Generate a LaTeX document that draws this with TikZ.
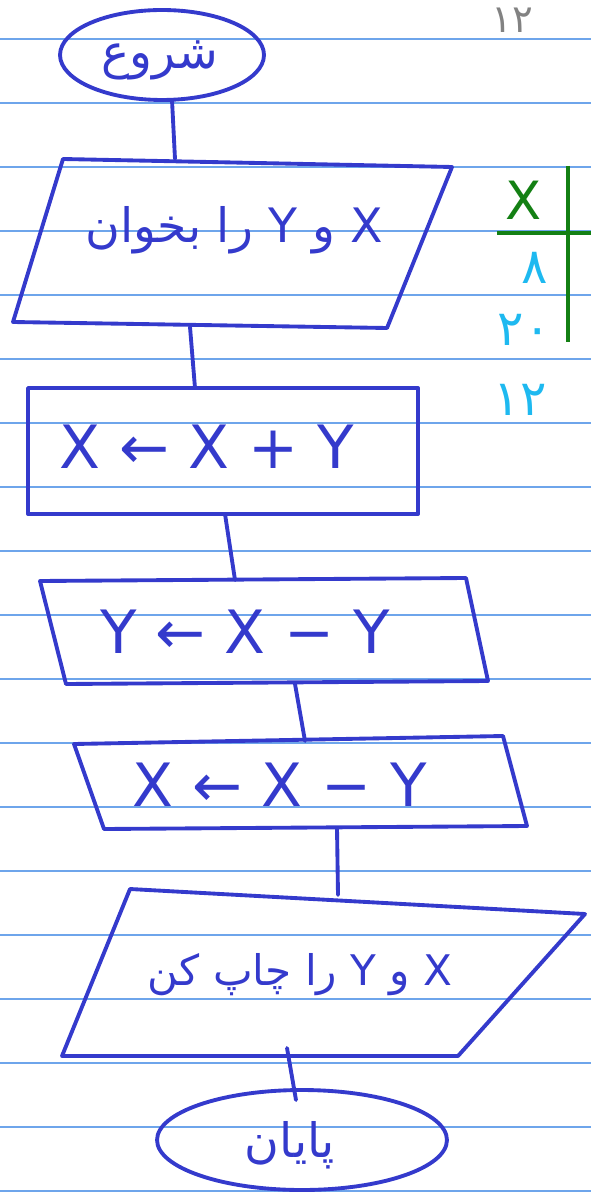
\documentclass[tikz,border=0pt]{standalone}
\usepackage{fontspec}
\setmainfont{DejaVu Sans}
\newfontfamily\farsi[Script=Arabic]{DejaVu Sans}
\TeXXeTstate=1
\definecolor{ink}{RGB}{52,58,204}
\definecolor{paperrule}{RGB}{110,165,235}
\definecolor{tgreen}{RGB}{20,128,20}
\definecolor{tcyan}{RGB}{30,185,240}
\definecolor{pencil}{RGB}{130,130,130}

\begin{document}
\begin{tikzpicture}[x=0.02cm, y=-0.02cm,
  ink/.style={draw=ink, line width=2.2pt, line join=round, line cap=round},
  lbl/.style={text=ink, font=\fontsize{34}{36}\selectfont},
  fa/.style={text=ink, font=\farsi\fontsize{27}{31}\selectfont}]
  \useasboundingbox (0,0) rectangle (591,1195);
  % خطوط دفتر
  \foreach \k in {0,...,18}
    \draw[paperrule, line width=0.6pt] (0,39+64*\k) -- (591,39+64*\k);

  % شروع
  \draw[ink] (162,55) ellipse [x radius=2.04cm, y radius=0.9cm];
  \node[fa] (start) at (160,60) {\beginR شروع\endR};

  % ورودی: متوازی الاضلاع
  \coordinate (R1) at (63,159);
  \coordinate (R2) at (452,167);
  \coordinate (R3) at (387,328);
  \coordinate (R4) at (13,322);
  \draw[ink] (R1) -- (R2) -- (R3) -- (R4) -- cycle;
  \node[fa] (read) at (234,230) {\beginR X و Y را بخوان\endR};

  % X <- X + Y
  \coordinate (S1) at (28,388);
  \coordinate (S2) at (418,514);
  \draw[ink] (S1) rectangle (S2);
  \node[lbl] (calcsum) at (207,447) {X ← X + Y};

  % Y <- X - Y
  \coordinate (T1) at (40,581);
  \coordinate (T2) at (466,578);
  \coordinate (T3) at (488,681);
  \coordinate (T4) at (66,684);
  \draw[ink] (T1) -- (T2) -- (T3) -- (T4) -- cycle;
  \node[lbl] (calcy) at (245,632) {Y ← X − Y};

  % X <- X - Y
  \coordinate (U1) at (74,744);
  \coordinate (U2) at (503,736);
  \coordinate (U3) at (527,826);
  \coordinate (U4) at (104,829);
  \draw[ink] (U1) -- (U2) -- (U3) -- (U4) -- cycle;
  \node[lbl] (calcx) at (280,785) {X ← X − Y};

  % خروجی
  \coordinate (P1) at (130,889);
  \coordinate (P2) at (585,914);
  \coordinate (P3) at (458,1056);
  \coordinate (P4) at (62,1056);
  \draw[ink] (P1) -- (P2) -- (P3) -- (P4) -- cycle;
  \node[fa, font=\farsi\fontsize{24}{28}\selectfont] (print) at (300,975) {\beginR X و Y را چاپ کن\endR};

  % پایان
  \draw[ink] (302,1140) ellipse [x radius=2.9cm, y radius=1.0cm];
  \node[fa] (stop) at (290,1145) {\beginR پایان\endR};

  % اتصال ها
  \coordinate (a1) at (172,100);  \coordinate (a2) at (175,159);
  \coordinate (b1) at (190,327);  \coordinate (b2) at (195,388);
  \coordinate (c1) at (225,514);  \coordinate (c2) at (235,580);
  \coordinate (d1) at (295,684);  \coordinate (d2) at (305,741);
  \coordinate (e1) at (337,828);  \coordinate (e2) at (338,895);
  \coordinate (f1) at (287,1048); \coordinate (f2) at (296,1100);
  \foreach \u/\v in {a1/a2, b1/b2, c1/c2, d1/d2, e1/e2, f1/f2}
    \draw[ink] (\u) -- (\v);

  % جدول کنار صفحه
  \coordinate (g1) at (568,166);  \coordinate (g2) at (568,342);
  \coordinate (h1) at (497,233);  \coordinate (h2) at (591,233);
  \draw[tgreen, line width=2pt] (g1) -- (g2);
  \draw[tgreen, line width=2pt] (h1) -- (h2);
  \node[text=tgreen, font=\fontsize{30}{32}\selectfont] (xhead) at (524,200) {X};
  \node[text=tcyan, font=\farsi\fontsize{28}{30}\selectfont] (v1) at (535,268) {۸};
  \node[text=tcyan, font=\farsi\fontsize{28}{30}\selectfont] (v2) at (524,330) {۲۰};
  \node[text=tcyan, font=\farsi\fontsize{28}{30}\selectfont] (v3) at (520,400) {۱۲};
  \node[text=pencil, font=\farsi\fontsize{22}{24}\selectfont] (pg) at (512,20) {۱۲};
\end{tikzpicture}
\end{document}
